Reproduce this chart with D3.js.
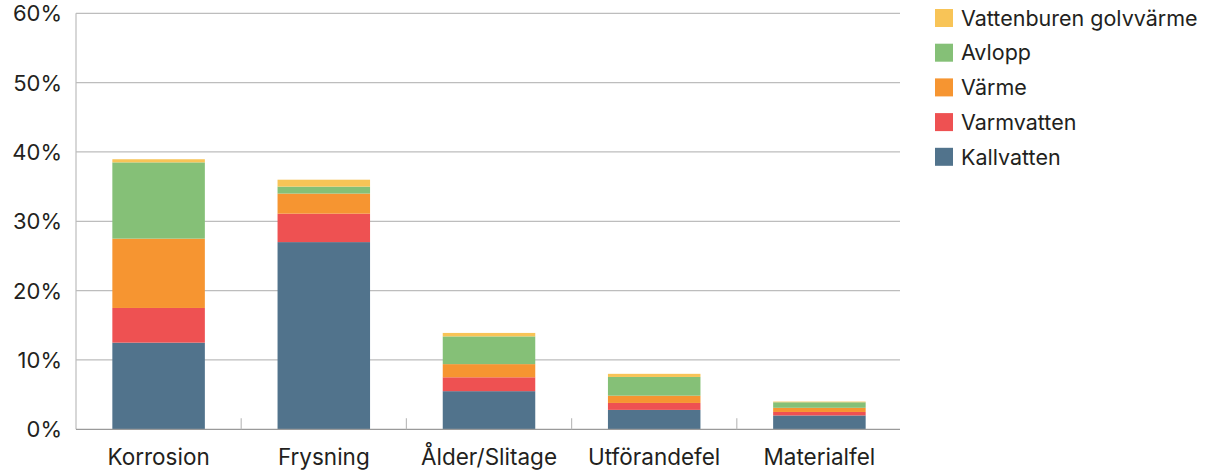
<!DOCTYPE html>
<html><head><meta charset="utf-8">
<script src="https://cdn.jsdelivr.net/npm/d3@7"></script>
<style>body{margin:0;background:#fff;} svg{display:block;} text{font-family:Inter, "Open Sans", sans-serif;fill:#231f20;}</style>
</head><body>
<svg id="c" width="1207" height="472"></svg>
<script>
const categories = ["Korrosion","Frysning","Ålder/Slitage","Utförandefel","Materialfel"];
const seriesNames = ["Kallvatten","Varmvatten","Värme","Avlopp","Vattenburen golvvärme"];
const kallvatten = [12.5, 27.0, 5.5, 2.8, 2.0];
const varmvatten = [5.0, 4.1, 2.0, 1.0, 0.5];
const varme = [10.0, 2.9, 1.9, 1.05, 0.6];
const avlopp = [11.0, 1.0, 4.0, 2.7, 0.8];
const golvvarme = [0.45, 1.0, 0.5, 0.45, 0.1];
const yTicks = [0,10,20,30,40,50,60];
const colors = ["#51738c","#ee5152","#f69531","#85c077","#f8c457"];

const seriesVals = [kallvatten, varmvatten, varme, avlopp, golvvarme];
const table = categories.map((c,i)=>{const o={cat:c}; seriesNames.forEach((s,j)=>o[s]=seriesVals[j][i]); return o;});
const stack = d3.stack().keys(seriesNames)(table);

const svg = d3.select("#c");
const L=76, R=902, T=13.3, B=429.3;
const x = d3.scaleBand().domain(categories).range([L,R]).paddingInner(0.44).paddingOuter(0.22);
const y = d3.scaleLinear().domain([0,60]).range([B,T]);
const color = d3.scaleOrdinal().domain(seriesNames).range(colors);

// gridlines
svg.append("g").selectAll("line").data(yTicks.filter(d=>d>0)).join("line")
  .attr("x1",L).attr("x2",R-2).attr("y1",d=>y(d)).attr("y2",d=>y(d))
  .attr("stroke","#bdbdbd").attr("stroke-width",1.2);

// bars
svg.append("g").selectAll("g").data(stack).join("g").attr("fill",d=>color(d.key))
  .selectAll("rect").data(d=>d).join("rect")
  .attr("x",d=>x(d.data.cat)).attr("width",x.bandwidth())
  .attr("y",d=>y(d[1])).attr("height",d=>y(d[0])-y(d[1]));

// left axis line
svg.append("line").attr("x1",L).attr("x2",L).attr("y1",T).attr("y2",B).attr("stroke","#bdbdbd").attr("stroke-width",1.2);
// baseline
svg.append("line").attr("x1",L).attr("x2",R-2).attr("y1",B).attr("y2",B).attr("stroke","#9a9a9a").attr("stroke-width",1.2);
// category separator ticks
const step = x.step();
const seps = categories.slice(1).map((c)=>x(c)-x.paddingInner()*step/2);
svg.append("g").selectAll("line").data(seps).join("line")
  .attr("x1",d=>d).attr("x2",d=>d).attr("y1",B-11).attr("y2",B)
  .attr("stroke","#bdbdbd").attr("stroke-width",1.2);

// y labels
svg.append("g").selectAll("text").data(yTicks).join("text")
  .attr("x",62).attr("y",d=>y(d)).attr("dy","0.36em").attr("text-anchor","end")
  .attr("font-size",22).text(d=>d+"%");

// x labels
svg.append("g").selectAll("text").data(categories).join("text")
  .attr("x",d=>x(d)+x.bandwidth()/2).attr("y",465).attr("text-anchor","middle")
  .attr("font-size",22.5).text(d=>d);

// legend
const leg = svg.append("g").selectAll("g").data(seriesNames.slice().reverse()).join("g")
  .attr("transform",(d,i)=>`translate(935,${18+i*34.7})`);
leg.append("rect").attr("x",0).attr("y",-9).attr("width",18).attr("height",18).attr("fill",d=>color(d));
leg.append("text").attr("x",26).attr("y",0).attr("dy","0.36em").attr("font-size",21.5).text(d=>d);
</script>
</body></html>
